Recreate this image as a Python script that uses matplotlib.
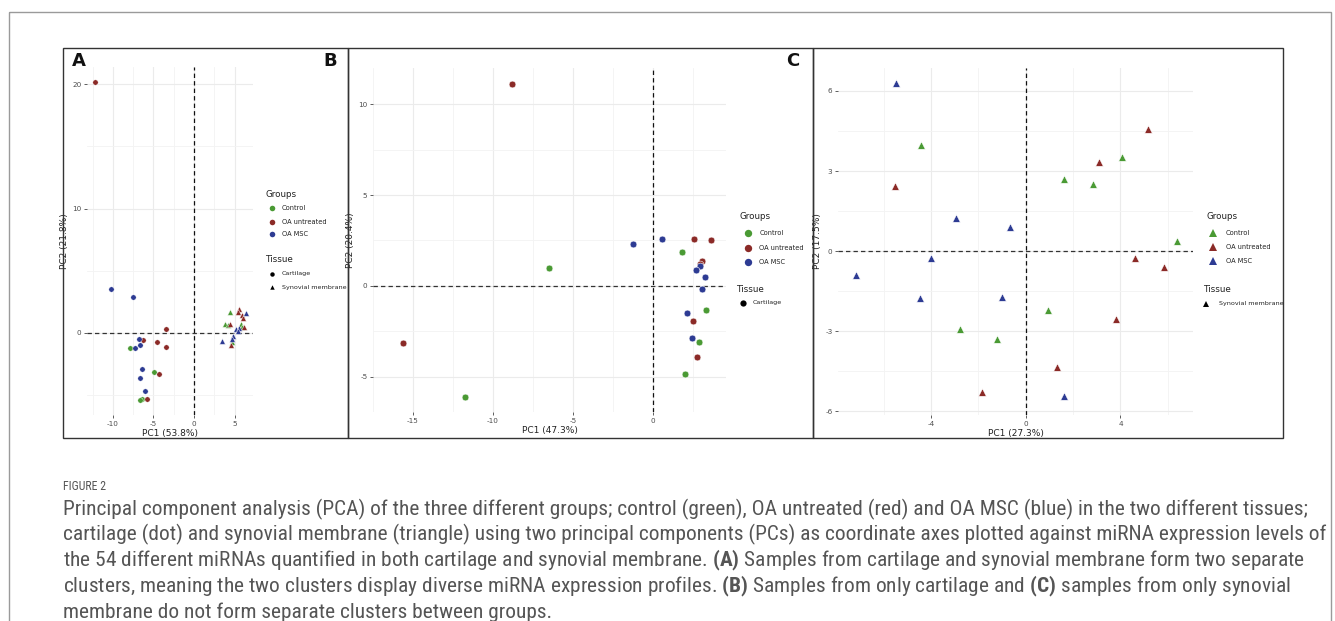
import matplotlib
matplotlib.use("Agg")
import matplotlib.pyplot as plt
from matplotlib import font_manager
from matplotlib.patches import Rectangle
from matplotlib.lines import Line2D

# colours of the three groups
GREEN = "#4a9a34"
RED = "#8b2a27"
BLUE = "#2d3b93"
group_names = ["Control", "OA untreated", "OA MSC"]
group_colors = [GREEN, RED, BLUE]

# ---- Panel A: cartilage (circles) + synovial membrane (triangles) ----
a_cart_control_x = [-7.9, -4.9, -6.45, -6.65]
a_cart_control_y = [-1.18, -3.17, -5.3, -5.4]
a_cart_untreated_x = [-12.2, -3.5, -6.3, -4.55, -3.4, -4.3, -5.8]
a_cart_untreated_y = [20.2, 0.3, -0.6, -0.75, -1.12, -3.3, -5.3]
a_cart_msc_x = [-10.3, -7.5, -6.75, -6.7, -7.3, -6.4, -6.6, -6.0]
a_cart_msc_y = [3.5, 2.9, -0.46, -0.93, -1.18, -2.87, -3.6, -4.7]

a_syn_control_x = [4.5, 3.85, 4.15, 5.75, 5.95, 4.7]
a_syn_control_y = [1.7, 0.75, 0.65, 0.75, 0.45, -0.75]
a_syn_untreated_x = [5.55, 5.4, 5.9, 6.0, 4.5, 6.15, 4.55]
a_syn_untreated_y = [1.95, 1.65, 1.45, 1.2, 0.75, 0.5, -1.0]
a_syn_msc_x = [6.4, 5.2, 5.6, 5.45, 3.4, 4.8, 4.65]
a_syn_msc_y = [1.62, 0.35, 0.4, 0.15, -0.62, -0.28, -0.5]

# ---- Panel B: cartilage only ----
b_control_x = [-11.78, -6.5, 1.82, 3.33, 2.87, 2.0]
b_control_y = [-6.12, 1.0, 1.88, -1.31, -3.1, -4.87]
b_untreated_x = [-8.81, -15.65, 2.57, 3.6, 3.07, 2.92, 2.47, 2.73]
b_untreated_y = [11.13, -3.14, 2.58, 2.53, 1.37, 1.22, -1.92, -3.91]
b_msc_x = [-1.27, 0.53, 2.92, 2.67, 3.23, 3.03, 2.14, 2.41]
b_msc_y = [2.29, 2.58, 1.07, 0.85, 0.5, -0.2, -1.49, -2.88]

# ---- Panel C: synovial membrane only ----
c_control_x = [-4.42, -2.77, -1.21, 0.94, 1.63, 2.86, 4.05, 6.37]
c_control_y = [3.99, -2.91, -3.3, -2.21, 2.69, 2.51, 3.54, 0.36]
c_untreated_x = [-5.51, -1.86, 1.31, 3.09, 5.15, 4.63, 5.82, 3.81]
c_untreated_y = [2.44, -5.26, -4.36, 3.34, 4.56, -0.26, -0.61, -2.55]
c_msc_x = [-5.49, -2.95, -0.65, -4.01, -7.16, -4.44, -0.98, 1.6]
c_msc_y = [6.29, 1.24, 0.91, -0.26, -0.9, -1.76, -1.71, -5.43]

caption_lines = [
    "Principal component analysis (PCA) of the three different groups; control (green), OA untreated (red) and OA MSC (blue) in the two different tissues;",
    "cartilage (dot) and synovial membrane (triangle) using two principal components (PCs) as coordinate axes plotted against miRNA expression levels of",
    r"the 54 different miRNAs quantified in both cartilage and synovial membrane. $\mathbf{(A)}$ Samples from cartilage and synovial membrane form two separate",
    r"clusters, meaning the two clusters display diverse miRNA expression profiles. $\mathbf{(B)}$ Samples from only cartilage and $\mathbf{(C)}$ samples from only synovial",
    "membrane do not form separate clusters between groups.",
]

W, H = 1335, 621

# narrow font for the caption if there is one
cap_font = "DejaVu Sans"
for name in ["Liberation Sans Narrow", "Roboto Condensed", "Open Sans Condensed", "Liberation Sans"]:
    try:
        font_manager.findfont(name, fallback_to_default=False)
        cap_font = name
        break
    except Exception:
        pass

plt.rcParams["mathtext.fontset"] = "custom"
plt.rcParams["mathtext.rm"] = cap_font
plt.rcParams["mathtext.bf"] = cap_font + ":bold"

fig = plt.figure(figsize=(W / 100, H / 100), dpi=100)
fig.patch.set_facecolor("white")


def px_axes(x0, y0, x1, y1):
    return fig.add_axes([x0 / W, 1 - y1 / H, (x1 - x0) / W, (y1 - y0) / H])


def style_panel(ax, xlim, ylim, xmaj, xmin_, ymaj, ymin_, xlabel, ylabel):
    ax.set_xlim(*xlim)
    ax.set_ylim(*ylim)
    for s in ax.spines.values():
        s.set_visible(False)
    ax.set_xticks(xmaj)
    ax.set_xticks(xmin_, minor=True)
    ax.set_yticks(ymaj)
    ax.set_yticks(ymin_, minor=True)
    ax.set_xticklabels([f"{v:g}" for v in xmaj])
    ax.set_yticklabels([f"{v:g}" for v in ymaj])
    ax.set_axisbelow(True)
    ax.grid(True, which="major", color="#ebebeb", lw=0.8)
    ax.grid(True, which="minor", color="#f3f3f3", lw=0.6)
    ax.tick_params(which="major", length=2.5, width=0.6, color="#444444",
                   labelsize=5.2, labelcolor="#4d4d4d", pad=1.5)
    ax.tick_params(which="minor", length=0)
    ax.set_xlabel(xlabel, fontsize=6.5, color="#222222", labelpad=1.5)
    ax.set_ylabel(ylabel, fontsize=6.5, color="#222222", labelpad=2)
    ax.axhline(0, color="#333333", lw=0.9, ls=(0, (3.5, 2.5)), zorder=2)
    ax.axvline(0, color="#111111", lw=0.9, ls=(0, (3.5, 2.5)), zorder=2)
    ax.set_facecolor("none")


# Panel A
axA = px_axes(87, 67, 253, 415)
style_panel(axA, (-13.2, 7.28), (-6.59, 21.37), [-10, -5, 0, 5], [-12.5, -7.5, -2.5, 2.5],
            [0, 10, 20], [-5, 5, 15], "PC1 (53.8%)", "PC2 (21.8%)")
for xs, ys, c in [(a_cart_control_x, a_cart_control_y, GREEN),
                  (a_cart_untreated_x, a_cart_untreated_y, RED),
                  (a_cart_msc_x, a_cart_msc_y, BLUE)]:
    axA.scatter(xs, ys, s=15, marker="o", color=c, edgecolors="white", linewidths=0.3, zorder=3)
for xs, ys, c in [(a_syn_control_x, a_syn_control_y, GREEN),
                  (a_syn_untreated_x, a_syn_untreated_y, RED),
                  (a_syn_msc_x, a_syn_msc_y, BLUE)]:
    axA.scatter(xs, ys, s=17, marker="^", color=c, edgecolors="white", linewidths=0.3, zorder=3)

# Panel B
axB = px_axes(373, 68, 726, 412)
style_panel(axB, (-16.85, 4.55), (-6.95, 12.0), [-15, -10, -5, 0], [-17.5, -12.5, -7.5, -2.5, 2.5],
            [-5, 0, 5, 10], [-2.5, 2.5, 7.5], "PC1 (47.3%)", "PC2 (20.4%)")
for xs, ys, c in [(b_control_x, b_control_y, GREEN),
                  (b_untreated_x, b_untreated_y, RED),
                  (b_msc_x, b_msc_y, BLUE)]:
    axB.scatter(xs, ys, s=24, marker="o", color=c, edgecolors="white", linewidths=0.4, zorder=3)

# Panel C
axC = px_axes(838, 68, 1193, 415)
style_panel(axC, (-7.92, 7.06), (-6.14, 6.86), [-4, 0, 4], [-6, -2, 2, 6],
            [-6, -3, 0, 3, 6], [-4.5, -1.5, 1.5, 4.5], "PC1 (27.3%)", "PC2 (17.5%)")
for xs, ys, c in [(c_control_x, c_control_y, GREEN),
                  (c_untreated_x, c_untreated_y, RED),
                  (c_msc_x, c_msc_y, BLUE)]:
    axC.scatter(xs, ys, s=30, marker="^", color=c, edgecolors="white", linewidths=0.4, zorder=3)

# overlay in pixel coordinates: frames, panel letters, legends, caption
ov = fig.add_axes([0, 0, 1, 1], zorder=5)
ov.set_xlim(0, W)
ov.set_ylim(H, 0)
ov.axis("off")
ov.patch.set_alpha(0)

ov.add_patch(Rectangle((9, 12), 1322, 700, fill=False, ec="#9a9a9a", lw=1.0))
for x0, x1 in [(63, 348), (348, 813), (813, 1283)]:
    ov.add_patch(Rectangle((x0, 48), x1 - x0, 390, fill=False, ec="#333333", lw=1.0))

for lab, x in [("A", 79), ("B", 330), ("C", 793)]:
    ov.text(x, 61, lab, fontsize=13, fontweight="bold", ha="center", va="center", color="#111111")


def draw_legend(x_title, y_title, x_mark, x_text, ys, marker, tissue, t_title_x, t_y, t_mark_x, t_text_x, ms):
    ov.text(x_title, y_title, "Groups", fontsize=6.3, color="#222222", va="center")
    for name, col, y in zip(group_names, group_colors, ys):
        ov.add_line(Line2D([x_mark], [y], marker=marker, color=col, ms=ms, mew=0, ls=""))
        ov.text(x_text, y, name, fontsize=4.8, color="#222222", va="center")
    ov.text(t_title_x, t_y[0], "Tissue", fontsize=6.3, color="#222222", va="center")
    for (name, mk), y in zip(tissue, t_y[1:]):
        ov.add_line(Line2D([t_mark_x], [y], marker=mk, color="black", ms=ms - 0.8, mew=0, ls=""))
        ov.text(t_text_x, y, name, fontsize=4.6, color="#222222", va="center")


draw_legend(265.5, 194.5, 271.7, 282, [208.3, 221.7, 234], "o",
            [("Cartilage", "o"), ("Synovial membrane", "^")], 265.5, [260, 274, 287.3], 271.5, 282, 4.0)
draw_legend(740, 216.7, 747.7, 759.3, [233.3, 248.3, 262.3], "o",
            [("Cartilage", "o")], 736, [289.3, 302.7], 742.7, 752.7, 5.3)
draw_legend(1206.7, 216.7, 1213.3, 1226, [233.3, 247, 261], "^",
            [("Synovial membrane", "^")], 1202.7, [289.3, 304], 1206, 1219.3, 5.3)

ov.text(63, 487, "FIGURE 2", fontsize=8.6, color="#555555", va="center", family=cap_font)
for i, line in enumerate(caption_lines):
    ov.text(63, 509 + i * 25.8, line, fontsize=15.4, color="#555555", va="center", family=cap_font)

fig.savefig("out.png", dpi=100, facecolor="white")
